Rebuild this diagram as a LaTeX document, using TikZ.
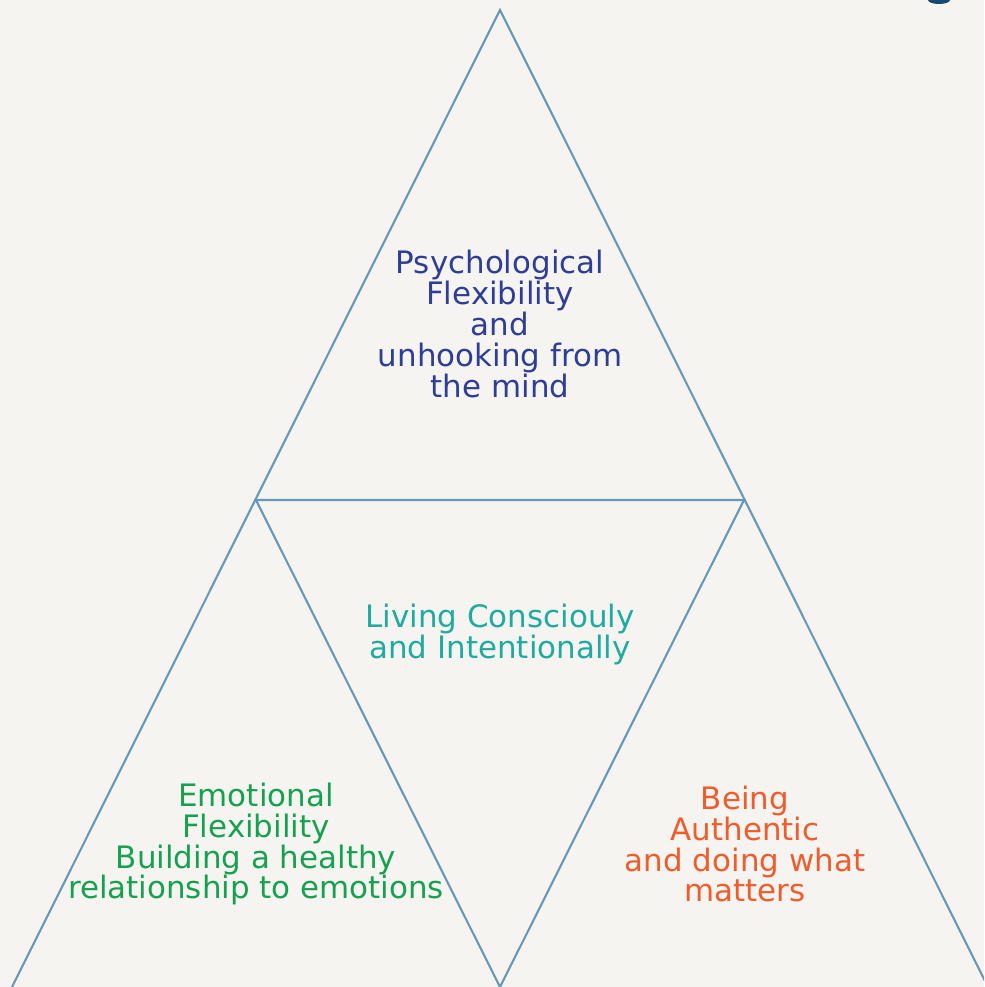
\documentclass[tikz,border=0pt]{standalone}
\usepackage{fontspec}
\setmainfont{DejaVu Sans}
\usepackage{xcolor}
\definecolor{bg-paper}{RGB}{245,244,240}
\definecolor{edge-blue}{RGB}{104,152,182}
\definecolor{mind-blue}{RGB}{46,62,150}
\definecolor{live-teal}{RGB}{32,170,160}
\definecolor{emo-green}{RGB}{22,160,80}
\definecolor{auth-orange}{RGB}{240,92,44}
\definecolor{dot-navy}{RGB}{22,72,112}
\usetikzlibrary{positioning}

\begin{document}
\begin{tikzpicture}[
    x=0.02cm, y=-0.02cm,
    edge/.style={draw=edge-blue, line width=1.2pt, line join=miter},
    label/.style={font=\fontsize{17.6}{17.6}\selectfont, align=center, inner sep=0pt}
]

% Page background
\fill[bg-paper] (0,0) rectangle (984,987);
\useasboundingbox (0,0) rectangle (984,987);

% Corner mark (cut off at the top edge)
\begin{scope}
    \clip (0,0) rectangle (984,987);
    \fill[dot-navy] (939,0) ellipse (11 and 4);
\end{scope}

% Corners of the outer triangle
\coordinate (apex) at (500,10);
\coordinate (left) at (12,987);
\coordinate (right) at (988,987);

% Corners of the inner triangle
\coordinate (midleft) at (256,500);
\coordinate (midright) at (744,500);
\coordinate (bottom) at (500,987);

% Outer triangle
\begin{scope}
    \clip (0,0) rectangle (984,987);
    \draw[edge] (left) -- (apex) -- (right);
\end{scope}

% Inner triangle
\draw[edge] (midleft) -- (midright) -- (bottom) -- cycle;

% Labels
\node[label, text=mind-blue] (mind) at (500,324) {Psychological\\Flexibility\\and\\unhooking from\\the mind};
\node[label, text=live-teal] (living) at (500,634) {Living Consciouly\\and Intentionally};
\node[label, text=emo-green] (emotion) at (256,844) {Emotional\\Flexibility\\Building a healthy\\relationship to emotions};
\node[label, text=auth-orange] (authentic) at (745,844) {Being\\Authentic\\and doing what\\matters};

\end{tikzpicture}
\end{document}
